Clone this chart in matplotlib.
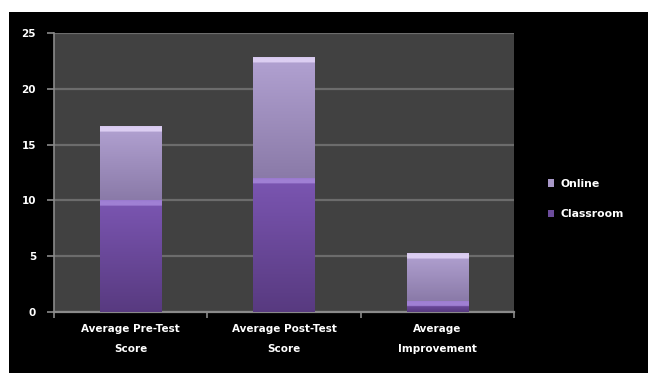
import numpy as np
import matplotlib.pyplot as plt
from matplotlib.colors import to_rgb
from matplotlib.patches import Rectangle

# Scores by group
categories = ["Average Pre-Test\nScore", "Average Post-Test\nScore", "Average\nImprovement"]
classroom = [10, 12, 1]
online = [6.6, 10.8, 4.3]
series_names = ["Classroom", "Online"]

# (bottom colour, top colour, highlight colour) for each series
shades = {
    "Classroom": ("#583a80", "#7b56b2", "#a080d4"),
    "Online": ("#8a7aa8", "#b2a2d2", "#dccef2"),
}

fig = plt.figure(figsize=(6.48, 3.73), dpi=100, facecolor="black")
# white margin along the top and left edges
fig.patches.append(Rectangle((0, 1 - 12 / 373), 1, 12 / 373, transform=fig.transFigure,
                             facecolor="white", edgecolor="none", zorder=-1))
fig.patches.append(Rectangle((0, 0), 9 / 648, 1, transform=fig.transFigure,
                             facecolor="white", edgecolor="none", zorder=-1))

ax = fig.add_axes([54 / 648, 61 / 373, 460 / 648, 279 / 373])
ax.set_facecolor("#414141")

x = np.arange(len(categories))
width = 0.4


def gradient_fill(patch, name):
    # paint a vertical gradient with a light band on top inside a bar patch
    x0, y0 = patch.get_x(), patch.get_y()
    w, h = patch.get_width(), patch.get_height()
    lo, hi, hl = (np.array(to_rgb(c)) for c in shades[name])
    n = 200
    t = np.linspace(0, 1, n)[:, None]
    img = lo * (1 - t) + hi * t
    band = max(1, int(round(0.5 / h * n)))
    img[-band:] = hl
    img[-max(1, band // 4):] = hl * 0.85 + hi * 0.15
    ax.imshow(img[:, None, :], extent=(x0, x0 + w, y0, y0 + h), origin="lower",
              aspect="auto", zorder=3, interpolation="bilinear")


bars_c = ax.bar(x, classroom, width, color="none", label="Classroom", zorder=3)
bars_o = ax.bar(x, online, width, bottom=classroom, color="none", label="Online", zorder=3)
for p in bars_c:
    gradient_fill(p, "Classroom")
for p in bars_o:
    gradient_fill(p, "Online")

ax.set_xlim(-0.5, len(categories) - 0.5)
ax.set_ylim(0, 25)
ax.set_yticks(range(0, 26, 5))
ax.yaxis.grid(True, color="#6c6c6c", linewidth=1.6)
ax.set_axisbelow(True)

# category ticks sit between the groups
ax.set_xticks(x)
ax.set_xticklabels(categories, color="white", fontsize=7.5, fontweight="bold",
                   linespacing=2.2)
ax.set_xticks(np.arange(-0.5, len(categories), 1), minor=True)
ax.tick_params(axis="x", which="major", length=0, pad=9)
ax.tick_params(axis="x", which="minor", length=4, color="#8a8a8a", width=1.2, direction="out")
ax.tick_params(axis="y", colors="#8a8a8a", labelcolor="white", labelsize=7.5,
               length=5, width=1.2, pad=8)
for lab in ax.get_yticklabels():
    lab.set_fontweight("bold")

for side in ["top", "right"]:
    ax.spines[side].set_visible(False)
ax.spines["left"].set_color("#8a8a8a")
ax.spines["bottom"].set_color("#8a8a8a")
ax.spines["left"].set_linewidth(1.2)
ax.spines["bottom"].set_linewidth(1.6)

# legend with small square swatches, online listed first
handles = [Rectangle((0, 0), 1, 1, facecolor="#a898c8"),
           Rectangle((0, 0), 1, 1, facecolor="#6c4c9c")]
leg = fig.legend(handles, ["Online", "Classroom"], loc="center left",
                 bbox_to_anchor=(538 / 648, 1 - 199 / 373), frameon=False,
                 handlelength=0.55, handleheight=0.75, handletextpad=0.6,
                 labelspacing=1.9, fontsize=7.8, labelcolor="white")
for t in leg.get_texts():
    t.set_fontweight("bold")

fig.savefig("out.png", dpi=100, facecolor=fig.get_facecolor())
